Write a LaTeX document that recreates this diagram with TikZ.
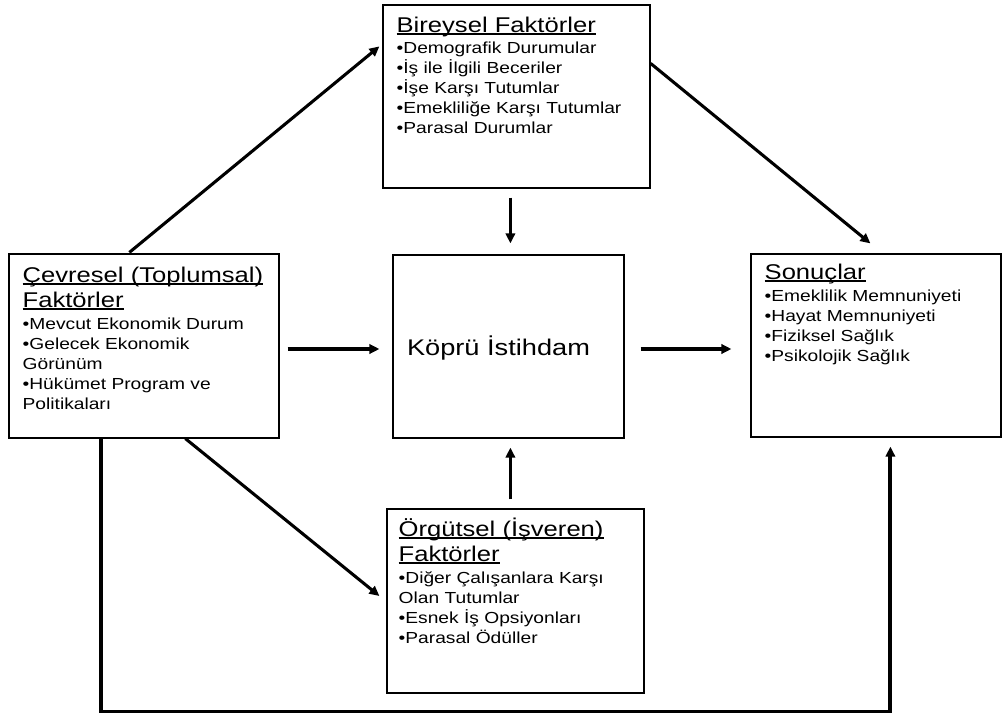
\documentclass[tikz,border=0pt]{standalone}
\usepackage{fontspec}
\setmainfont{Liberation Sans}[FakeStretch=1.2]
\usetikzlibrary{calc,fit,arrows.meta,positioning}

\newcommand{\titlesize}{\fontsize{16pt}{18.75pt}\selectfont}
\newcommand{\itemsize}{\fontsize{12pt}{15pt}\selectfont}
\newcommand{\undertext}[1]{\setbox0\hbox{#1}\rlap{\rule[-1.7pt]{\wd0}{1pt}}\box0}

\begin{document}
\begin{tikzpicture}[x=0.75pt, y=-0.75pt,
    >={Triangle[length=7.5pt,width=7pt]},
    box/.style={draw, line width=0.9pt, inner sep=0pt},
    title/.style={anchor=base west, inner sep=0pt, align=left, font=\titlesize},
    items/.style={anchor=base west, inner sep=0pt, align=left, font=\itemsize},
    conn/.style={->, line width=2.3pt},
    route/.style={->, line width=3pt}]
    \useasboundingbox (0,0) rectangle (1003,713);

    % Bireysel (text placed by its last baseline)
    \node[box, fit={(383,5) (650,188)}] (bir) {};
    \node[title] (birtitle) at ($(bir.north west)+(14,28)$) {\undertext{Bireysel Faktörler}};
    \node[items] (biritems) at ($(bir.north west)+(14,129)$) {•Demografik Durumular\\•İş ile İlgili Beceriler\\•İşe Karşı Tutumlar\\•Emekliliğe Karşı Tutumlar\\•Parasal Durumlar};

    % Cevresel
    \node[box, fit={(9,254) (279,438)}] (cev) {};
    \node[title] (cevtitle) at ($(cev.north west)+(14,54)$) {\undertext{Çevresel (Toplumsal)}\\\undertext{Faktörler}};
    \node[items] (cevitems) at ($(cev.north west)+(14,156)$) {•Mevcut Ekonomik Durum\\•Gelecek Ekonomik\\Görünüm\\•Hükümet Program ve\\Politikaları};

    % Kopru
    \node[box, fit={(393,255) (624,438)}] (kop) {};
    \node[anchor=base, inner sep=0pt, font=\fontsize{17pt}{20pt}\selectfont] (koptext) at ($(kop.center)+(-10,8.5)$) {Köprü İstihdam};

    % Sonuclar
    \node[box, fit={(751,254) (1001,437)}] (son) {};
    \node[title] (sontitle) at ($(son.north west)+(14,26)$) {\undertext{Sonuçlar}};
    \node[items] (sonitems) at ($(son.north west)+(14,108)$) {•Emeklilik Memnuniyeti\\•Hayat Memnuniyeti\\•Fiziksel Sağlık\\•Psikolojik Sağlık};

    % Orgutsel
    \node[box, fit={(387,509) (644,693)}] (org) {};
    \node[title] (orgtitle) at ($(org.north west)+(12,53)$) {\undertext{Örgütsel (İşveren)}\\\undertext{Faktörler}};
    \node[items] (orgitems) at ($(org.north west)+(12,135)$) {•Diğer Çalışanlara Karşı\\Olan Tutumlar\\•Esnek İş Opsiyonları\\•Parasal Ödüller};

    % arrows
    \draw[conn] ($(cev.north west)+(121,-1)$) -- ($(bir.north west)+(-3,42)$);
    \draw[conn] ($(bir.south west)+(128,9)$) -- ($(kop.north west)+(118,-11)$);
    \draw[conn] ($(bir.north east)+(0,59)$) -- ($(son.north west)+(120,-10)$);
    \draw[conn] ($(cev.east)+(8,3)$) -- ($(kop.west)+(-13,2.5)$);
    \draw[conn] ($(kop.east)+(16,2.5)$) -- ($(son.west)+(-19,3.5)$);
    \draw[conn] ($(org.north west)+(124,-9)$) -- ($(kop.south west)+(118,9)$);
    \draw[conn] ($(cev.south west)+(177,0)$) -- ($(org.west)+(-7,-5)$);
    \draw[route] ($(cev.south west)+(93,0)$) -- ++(0,273) -| ($(son.south west)+(140,9)$);

\end{tikzpicture}
\end{document}
